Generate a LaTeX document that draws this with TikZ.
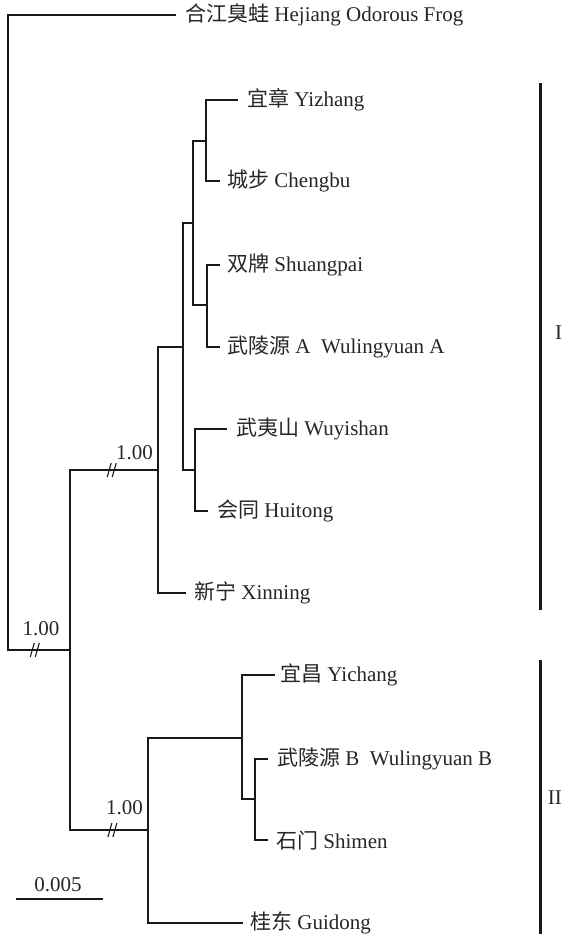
\documentclass[tikz,border=0pt]{standalone}
\usepackage{fontspec}
\setmainfont{Liberation Serif}
\newfontfamily\cjk{Noto Sans CJK SC}
\usetikzlibrary{calc}
\begin{document}
\begin{tikzpicture}[x=1pt,y=-1pt,
  br/.style={line width=2pt, line join=miter, draw=black!90},
  lab/.style={anchor=west, inner sep=0pt, text=black!85, font=\fontsize{21}{25}\selectfont},
  num/.style={inner sep=0pt, text=black!85, font=\fontsize{21}{25}\selectfont},
  clade/.style={line width=3pt, draw=black!90},
  brk/.pic={\draw[line width=1.1pt, black!90] (-5,7) -- (-1,-7) (0,7) -- (4,-7);}]
\useasboundingbox (0,0) rectangle (563,934);
% internal nodes
\coordinate (r) at (8,332);
\coordinate (n1) at (70,650);
\coordinate (nA) at (158,470);
\coordinate (nA1) at (183,347);
\coordinate (nA2) at (193,223);
\coordinate (nA3) at (195,470);
\coordinate (nA4) at (206,141);
\coordinate (nA5) at (207,305);
\coordinate (nB) at (148,830);
\coordinate (nB1) at (242,738);
\coordinate (nB2) at (255,799);
% tips
\coordinate (tHe) at (176,15);
\coordinate (tYz) at (238,100);
\coordinate (tCb) at (220,181);
\coordinate (tSp) at (220,265);
\coordinate (tWa) at (220,347);
\coordinate (tWy) at (227,429);
\coordinate (tHt) at (208,511);
\coordinate (tXn) at (186,593);
\coordinate (tYc) at (275,675);
\coordinate (tWb) at (268,759);
\coordinate (tSm) at (268,840);
\coordinate (tGd) at (243,923);
% labels
\node[lab, xshift=9pt] (LHe) at (tHe) {{\cjk 合江臭蛙} Hejiang Odorous Frog};
\node[lab, xshift=9pt] (LYz) at (tYz) {{\cjk 宜章} Yizhang};
\node[lab, xshift=7pt] (LCb) at (tCb) {{\cjk 城步} Chengbu};
\node[lab, xshift=7pt] (LSp) at (tSp) {{\cjk 双牌} Shuangpai};
\node[lab, xshift=7pt] (LWa) at (tWa) {{\cjk 武陵源} A\ \ Wulingyuan A};
\node[lab, xshift=9pt] (LWy) at (tWy) {{\cjk 武夷山} Wuyishan};
\node[lab, xshift=9pt] (LHt) at (tHt) {{\cjk 会同} Huitong};
\node[lab, xshift=8pt] (LXn) at (tXn) {{\cjk 新宁} Xinning};
\node[lab, xshift=5pt] (LYc) at (tYc) {{\cjk 宜昌} Yichang};
\node[lab, xshift=9pt] (LWb) at (tWb) {{\cjk 武陵源} B\ \ Wulingyuan B};
\node[lab, xshift=8pt] (LSm) at (tSm) {{\cjk 石门} Shimen};
\node[lab, xshift=7pt] (LGd) at (tGd) {{\cjk 桂东} Guidong};
% branches
\draw[br] (r) |- (tHe);
\draw[br] (r) |- (n1);
\draw[br] (n1) |- (nA);
\draw[br] (n1) |- (nB);
\draw[br] (nA) |- (nA1);
\draw[br] (nA) |- (tXn);
\draw[br] (nA1) |- (nA2);
\draw[br] (nA1) |- (nA3);
\draw[br] (nA2) |- (nA4);
\draw[br] (nA2) |- (nA5);
\draw[br] (nA4) |- (tYz);
\draw[br] (nA4) |- (tCb);
\draw[br] (nA5) |- (tSp);
\draw[br] (nA5) |- (tWa);
\draw[br] (nA3) |- (tWy);
\draw[br] (nA3) |- (tHt);
\draw[br] (nB) |- (nB1);
\draw[br] (nB) |- (tGd);
\draw[br] (nB1) |- (tYc);
\draw[br] (nB1) |- (nB2);
\draw[br] (nB2) |- (tWb);
\draw[br] (nB2) |- (tSm);
% breaks
\pic at ($(r |- n1)!0.44!(n1)$) {brk};
\pic at ($(n1 |- nA)!0.48!(nA)$) {brk};
\pic at ($(n1 |- nB)!0.55!(nB)$) {brk};
% support values
\node[num] (s1) at (41,629) {1.00};
\node[num] (s2) at (134.5,453) {1.00};
\node[num] (s3) at (124.5,808) {1.00};
% scale bar
\coordinate (sb1) at (16,899);
\coordinate (sb2) at (103,899);
\draw[line width=2pt, black!90] (sb1) -- (sb2);
\node[num] (sbl) at (58,885) {0.005};
% clade bars
\coordinate (cI1) at (540,83);
\coordinate (cI2) at (540,610);
\coordinate (cII1) at (540,660);
\coordinate (cII2) at (540,936);
\draw[clade] (cI1) -- (cI2);
\draw[clade] (cII1) -- (cII2);
\node[num] (LI) at (558.7,333) {I};
\node[num, anchor=east] (LII) at (562,798) {II};
\end{tikzpicture}
\end{document}
